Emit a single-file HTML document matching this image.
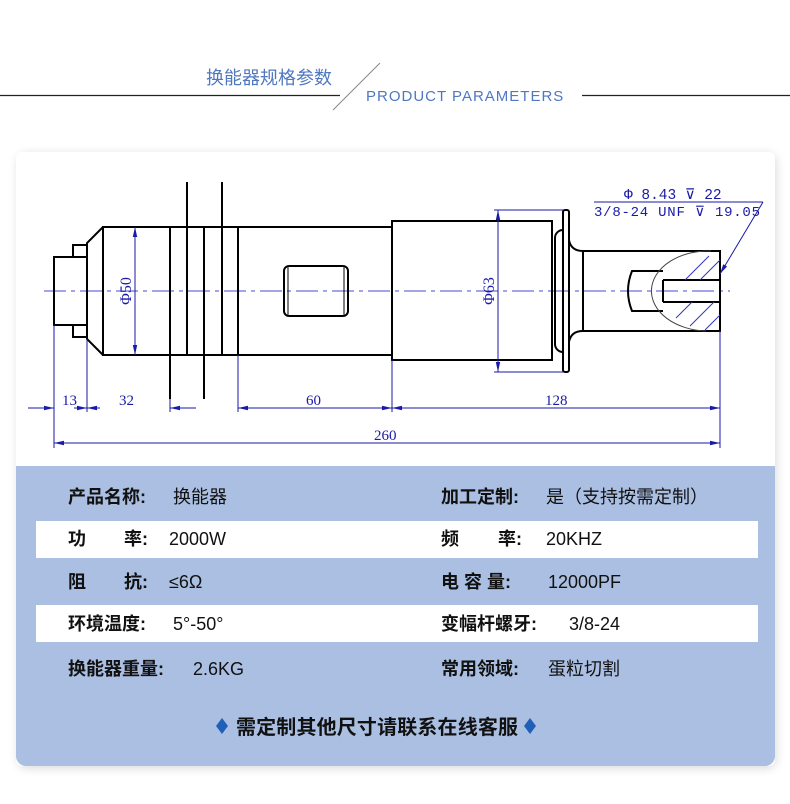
<!DOCTYPE html>
<html><head><meta charset="utf-8"><style>
html,body{margin:0;padding:0;background:#fff;}
svg{display:block;}
</style></head><body>
<svg width="790" height="804" viewBox="0 0 790 804" xmlns="http://www.w3.org/2000/svg">
<defs>
<filter id="sh" x="-5%" y="-5%" width="110%" height="115%"><feGaussianBlur stdDeviation="5"/></filter>
<marker id="a" viewBox="0 0 10 6" refX="10" refY="3" markerWidth="12" markerHeight="6" orient="auto-start-reverse" markerUnits="userSpaceOnUse"><path d="M0,0.8 L10,3 L0,5.2z" fill="#1a1aa8"/></marker>
</defs>
<rect width="790" height="804" fill="#fff"/>
<line x1="0" y1="95.5" x2="340" y2="95.5" stroke="#222" stroke-width="1.3"/>
<line x1="582" y1="95.5" x2="790" y2="95.5" stroke="#222" stroke-width="1.3"/>
<line x1="380" y1="63" x2="333" y2="110" stroke="#888" stroke-width="1"/>
<text x="206" y="84" font-family="Liberation Sans, Noto Sans CJK SC, sans-serif" font-size="18" fill="#4f78c0">换能器规格参数</text>
<text x="366" y="101" font-family="Liberation Sans, sans-serif" font-size="15" letter-spacing="1" fill="#4f78c0">PRODUCT PARAMETERS</text>
<rect x="18" y="154" width="758" height="614" rx="8" fill="#000" opacity="0.15" filter="url(#sh)"/>
<rect x="16" y="152" width="759" height="614" rx="6" fill="#fff"/>
<path d="M16,466 H775 V756 a10,10 0 0 1 -10,10 H26 a10,10 0 0 1 -10,-10z" fill="#aabfe2"/>
<rect x="36" y="521" width="722" height="37" fill="#fff"/>
<rect x="36" y="605" width="722" height="37" fill="#fff"/>
<line x1="44" y1="291" x2="730" y2="291" stroke="#4a4ad0" stroke-width="1" stroke-dasharray="22,5,4,5"/>
<g fill="none" stroke="#000" stroke-width="2">
<path d="M103,227 L87,243 L87,339 L103,355 M87,257 L73,257 L73,245 L87,245 M87,325 L73,325 L73,337 L87,337 M73,257 L54,257 L54,325 L73,325"/>
<rect x="103" y="227" width="289" height="128"/>
<line x1="170" y1="227" x2="170" y2="399"/>
<line x1="187" y1="182" x2="187" y2="355"/>
<line x1="204" y1="227" x2="204" y2="399"/>
<line x1="222" y1="182" x2="222" y2="355"/>
<line x1="238" y1="227" x2="238" y2="355"/>
<rect x="284" y="266" width="64" height="50" rx="5"/>
<line x1="288" y1="267" x2="288" y2="315" stroke-width="1"/>
<line x1="344" y1="267" x2="344" y2="315" stroke-width="1"/>
<rect x="392" y="221" width="160" height="139"/>
<path d="M563,230 A8,8 0 0 0 555,238 V344 A8,8 0 0 0 563,352"/>
<rect x="563" y="210" width="6" height="162" rx="2"/>
<path d="M569,240 Q571,251 583,251 H720 V331 H583 Q571,331 569,342"/>
<line x1="583" y1="251" x2="583" y2="331"/>
<path d="M663,271 H632 Q624,291 632,311 H663"/>
<path d="M663,280 H720 M663,302 H720 M663,280 V302"/>
</g>
<path d="M711,251 A57,40 0 0 0 706,331" fill="none" stroke="#444" stroke-width="1"/>
<g stroke="#3333c0" stroke-width="1">
<line x1="700" y1="280" x2="720" y2="260"/><line x1="685" y1="280" x2="709" y2="256"/>
<line x1="676" y1="318" x2="692" y2="302"/><line x1="690" y1="326" x2="714" y2="302"/><line x1="705" y1="330" x2="720" y2="315"/>
</g>
<g stroke="#1a1aa8" stroke-width="1" fill="none">
<line x1="135" y1="227" x2="135" y2="355" marker-start="url(#a)" marker-end="url(#a)"/>
<line x1="494" y1="210" x2="563" y2="210"/><line x1="494" y1="372" x2="563" y2="372"/>
<line x1="498" y1="210" x2="498" y2="372" marker-start="url(#a)" marker-end="url(#a)"/>
<line x1="54" y1="325" x2="54" y2="448"/>
<line x1="87" y1="339" x2="87" y2="412"/>
<line x1="170" y1="399" x2="170" y2="412"/>
<line x1="238" y1="355" x2="238" y2="412"/>
<line x1="392" y1="360" x2="392" y2="412"/>
<line x1="720" y1="331" x2="720" y2="448"/>
<line x1="28" y1="408" x2="54" y2="408" marker-end="url(#a)"/>
<line x1="74" y1="408" x2="87" y2="408" marker-end="url(#a)"/>
<line x1="87" y1="408" x2="100" y2="408" marker-start="url(#a)"/>
<line x1="170" y1="408" x2="196" y2="408" marker-start="url(#a)"/>
<line x1="238" y1="408" x2="392" y2="408" marker-start="url(#a)" marker-end="url(#a)"/>
<line x1="392" y1="408" x2="720" y2="408" marker-start="url(#a)" marker-end="url(#a)"/>
<line x1="54" y1="443" x2="720" y2="443" marker-start="url(#a)" marker-end="url(#a)"/>
<line x1="594" y1="202" x2="763" y2="202"/>
<line x1="763" y1="202" x2="720" y2="274" marker-end="url(#a)"/>
</g>
<g font-family="Liberation Serif, serif" font-size="15" fill="#1a1aa8">
<text x="62" y="405">13</text><text x="119" y="405">32</text><text x="306" y="405">60</text>
<text x="545" y="405">128</text><text x="374" y="440">260</text>
<text transform="translate(131,291) rotate(-90)" text-anchor="middle" font-size="16">Φ50</text>
<text transform="translate(494,291) rotate(-90)" text-anchor="middle" font-size="16">Φ63</text>
<text x="624" y="199" font-family="Liberation Mono, monospace" font-size="14.5">Φ 8.43 ⊽ 22</text>
<text x="594" y="216" font-family="Liberation Mono, monospace" font-size="14" textLength="166">3/8-24 UNF  ⊽ 19.05</text>
</g>
<g font-family="Liberation Sans, Noto Sans CJK SC, sans-serif" font-size="18" fill="#111">
<text x="68" y="503" font-weight="bold">产品名称:</text><text x="173" y="503">换能器</text>
<text x="441" y="503" font-weight="bold">加工定制:</text><text x="546" y="503">是（支持按需定制）</text>
<text x="68" y="545" font-weight="bold">功</text><text x="124" y="545" font-weight="bold">率:</text><text x="169" y="545">2000W</text>
<text x="441" y="545" font-weight="bold">频</text><text x="498" y="545" font-weight="bold">率:</text><text x="546" y="545">20KHZ</text>
<text x="68" y="588" font-weight="bold">阻</text><text x="124" y="588" font-weight="bold">抗:</text><text x="169" y="588">≤6Ω</text>
<text x="441" y="588" font-weight="bold">电 容 量:</text><text x="548" y="588">12000PF</text>
<text x="68" y="630" font-weight="bold">环境温度:</text><text x="173" y="630">5°-50°</text>
<text x="441" y="630" font-weight="bold">变幅杆螺牙:</text><text x="569" y="630">3/8-24</text>
<text x="68" y="675" font-weight="bold">换能器重量:</text><text x="193" y="675">2.6KG</text>
<text x="441" y="675" font-weight="bold">常用领域:</text><text x="548" y="675">蛋粒切割</text>
<text x="236" y="734" font-weight="bold" font-size="20" textLength="282">需定制其他尺寸请联系在线客服</text>
</g>
<path d="M222,718 L228,726 L222,734 L216,726z" fill="#1f5fb8"/>
<path d="M530,718 L536,726 L530,734 L524,726z" fill="#1f5fb8"/>
</svg>
</body></html>
